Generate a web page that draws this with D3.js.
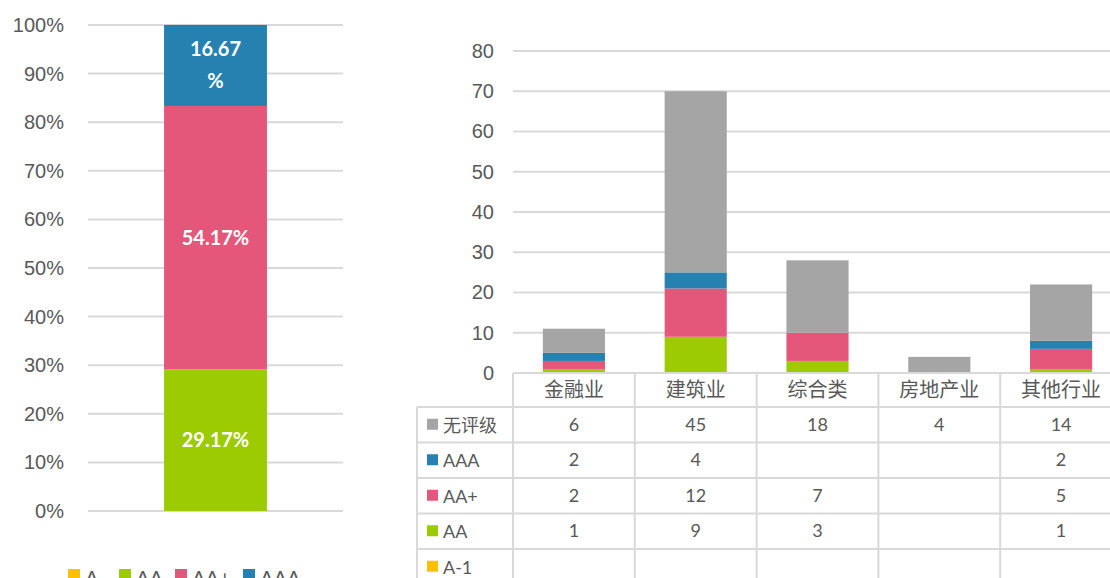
<!DOCTYPE html>
<html>
<head>
<meta charset="utf-8">
<style>
    body { margin: 0; background: #fff; }
    svg { display: block; font-family: Lato, "Noto Sans CJK SC", sans-serif; }
    .grid line { stroke: #d9d9d9; stroke-width: 2px; }
    .axis text { fill: #595959; font-size: 20px; }
    .axis .domain, .axis .tick line { display: none; }
    .cell { fill: #595959; font-size: 18px; }
    .label { fill: #fff; font-size: 20px; font-weight: bold; }
</style>
</head>
<body>
<svg width="1110" height="578"></svg>
<script src="https://d3js.org/d3.v7.min.js"></script>
<script>
// left chart: share of ratings
let shareKeys = ["A-", "AA", "AA+", "AAA"]
let shareValues = [0, 29.17, 54.17, 16.67]
let shareColors = ["#ffc000", "#9bcb00", "#e5577a", "#2681b0"]
let shareTicks = [0, 10, 20, 30, 40, 50, 60, 70, 80, 90, 100]

// right chart: counts by industry
let industries = ["金融业", "建筑业", "综合类", "房地产业", "其他行业"]
let ratings = ["A-1", "AA", "AA+", "AAA", "无评级"]   // stack order, bottom first
let countA1 = [null, null, null, null, null]
let countAA = [1, 9, 3, null, 1]
let countAAplus = [2, 12, 7, null, 5]
let countAAA = [2, 4, null, null, 2]
let countNone = [6, 45, 18, 4, 14]
let countColors = ["#ffc000", "#9bcb00", "#e5577a", "#2681b0", "#a5a5a5"]
let countTicks = [0, 10, 20, 30, 40, 50, 60, 70, 80]

let svg = d3.select("svg")

// ---------- left chart ----------
let yL = d3.scaleLinear().domain([0, 100]).range([511, 25])
let xL = d3.scaleBand().domain(["all"]).range([88, 343]).padding(0.425)

svg.append("g").attr("class", "grid")
    .selectAll("line").data(shareTicks).join("line")
    .attr("x1", 88).attr("x2", 343)
    .attr("y1", d => yL(d)).attr("y2", d => yL(d))

svg.append("g").attr("class", "axis")
    .attr("transform", "translate(70,0)")
    .call(d3.axisLeft(yL).tickValues(shareTicks).tickSize(0).tickPadding(6).tickFormat(d => d + "%"))

let shareRow = {}
shareKeys.forEach((k, i) => shareRow[k] = shareValues[i])
let shareStack = d3.stack().keys(shareKeys)([shareRow])

svg.append("g").selectAll("rect").data(shareStack).join("rect")
    .attr("x", xL("all"))
    .attr("width", xL.bandwidth())
    .attr("y", d => yL(d[0][1]))
    .attr("height", d => yL(d[0][0]) - yL(d[0][1]))
    .attr("fill", (d, i) => shareColors[i])

let lbl = svg.append("g")
shareStack.forEach((s, i) => {
    let v = shareValues[i]
    if (!v) return
    let cx = xL("all") + xL.bandwidth() / 2
    let cy = (yL(s[0][0]) + yL(s[0][1])) / 2
    let t = lbl.append("text").attr("class", "label").attr("text-anchor", "middle")
    if (v < 20) {
        // narrow segment: label wraps like in the original
        t.append("tspan").attr("x", cx).attr("y", cy - 9).text(v.toFixed(2))
        t.append("tspan").attr("x", cx).attr("y", cy + 23).text("%")
    } else {
        t.attr("x", cx).attr("y", cy + 7).text(v.toFixed(2) + "%")
    }
})

// legend under left chart (cut by the bottom edge, as in the original)
let legX = [68, 119, 175, 243]
let leg = svg.append("g")
shareKeys.forEach((k, i) => {
    leg.append("rect").attr("x", legX[i]).attr("y", 569).attr("width", 12).attr("height", 12).attr("fill", shareColors[i])
    leg.append("text").attr("class", "cell").attr("x", legX[i] + 17).attr("y", 585)
        .style("font-size", "20px").text(k)
})

// ---------- right chart ----------
let yR = d3.scaleLinear().domain([0, 80]).range([373, 51])
let xCol = d3.scaleBand().domain(industries).range([513, 513 + 5 * 121.8])
let barW = xCol.bandwidth() * 0.51

svg.append("g").attr("class", "grid")
    .selectAll("line").data(countTicks).join("line")
    .attr("x1", 513).attr("x2", 1110)
    .attr("y1", d => yR(d)).attr("y2", d => yR(d))

svg.append("g").attr("class", "axis")
    .attr("transform", "translate(500,0)")
    .call(d3.axisLeft(yR).tickValues(countTicks).tickSize(0).tickPadding(6))

let countSeries = [countA1, countAA, countAAplus, countAAA, countNone]
let countRows = industries.map((name, j) => {
    let r = { name: name }
    ratings.forEach((k, i) => r[k] = countSeries[i][j] || 0)
    return r
})
let countStack = d3.stack().keys(ratings)(countRows)

svg.append("g").selectAll("g").data(countStack).join("g")
    .attr("fill", (d, i) => countColors[i])
    .selectAll("rect").data(d => d).join("rect")
    .attr("x", d => xCol(d.data.name) + (xCol.bandwidth() - barW) / 2)
    .attr("width", barW)
    .attr("y", d => yR(d[1]))
    .attr("height", d => yR(d[0]) - yR(d[1]))

// data table under right chart
let headTop = yR(0)
let rowH = 35.5
let firstRow = headTop + 34
let tableLeft = 417
let tableRight = xCol.range()[1]
let rowOrder = ratings.slice().reverse()   // 无评级 first

let tbl = svg.append("g").attr("class", "grid")
// horizontal borders
tbl.append("line").attr("x1", 513).attr("x2", tableRight).attr("y1", headTop).attr("y2", headTop)
d3.range(rowOrder.length + 1).forEach(i => {
    let y = firstRow + i * rowH
    tbl.append("line").attr("x1", tableLeft).attr("x2", tableRight).attr("y1", y).attr("y2", y)
})
// vertical borders
tbl.append("line").attr("x1", tableLeft).attr("x2", tableLeft).attr("y1", firstRow).attr("y2", 578)
industries.forEach(c => {
    tbl.append("line").attr("x1", xCol(c)).attr("x2", xCol(c)).attr("y1", headTop).attr("y2", 578)
})
tbl.append("line").attr("x1", tableRight).attr("x2", tableRight).attr("y1", headTop).attr("y2", 578)

// header (categories)
svg.append("g").selectAll("text").data(industries).join("text")
    .attr("class", "cell").style("font-size", "20px")
    .attr("text-anchor", "middle")
    .attr("x", d => xCol(d) + xCol.bandwidth() / 2)
    .attr("y", headTop + 24)
    .text(d => d)

// rows
rowOrder.forEach((k, ri) => {
    let si = ratings.indexOf(k)
    let cy = firstRow + ri * rowH + rowH / 2
    svg.append("rect").attr("x", 427).attr("y", cy - 6).attr("width", 11).attr("height", 11).attr("fill", countColors[si])
    svg.append("text").attr("class", "cell").attr("x", 443).attr("y", cy + 7).text(k)
    svg.append("g").selectAll("text").data(countSeries[si]).join("text")
        .attr("class", "cell").attr("text-anchor", "middle")
        .attr("x", (d, j) => xCol(industries[j]) + xCol.bandwidth() / 2)
        .attr("y", cy + 6)
        .text(d => d == null ? "" : d)
})
</script>
</body>
</html>
